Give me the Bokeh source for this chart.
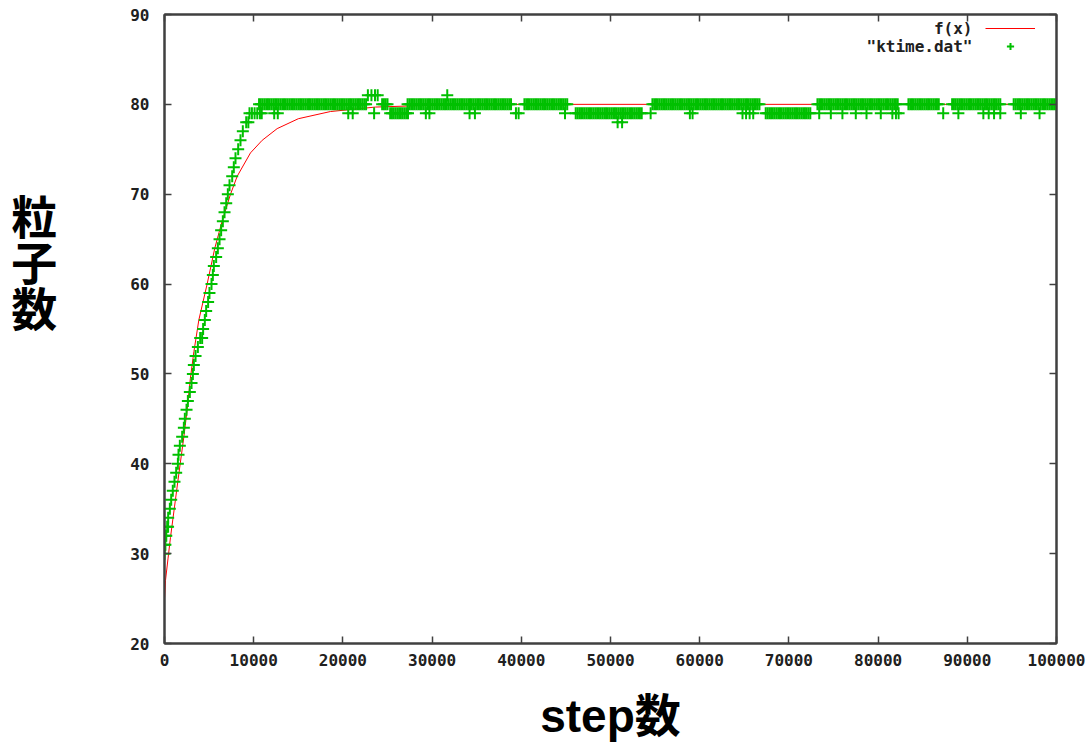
import numpy as np
from bokeh.plotting import figure
from bokeh.models import (Range1d, FixedTicker, LinearAxis, Legend, Label,
                          LegendItem, BasicTickFormatter, ColumnDataSource)
from bokeh.embed import file_html
from bokeh.resources import INLINE

# ---------------- data ----------------
x_ticks = [0, 10000, 20000, 30000, 40000, 50000, 60000, 70000, 80000, 90000, 100000]
y_ticks = [20, 30, 40, 50, 60, 70, 80, 90]

# fitted curve f(x)
fit_x = [0, 110, 400, 670, 1120, 1610, 2170, 2540, 2900, 3300, 3850, 4780, 5640,
         6460, 7400, 8150, 9640, 10950, 12630, 15000, 18600, 23650, 30000, 40000,
         60000, 80000, 100000]
fit_y = [25.0, 27.0, 29.5, 31.8, 35.2, 38.9, 43.0, 46.0, 49.5, 52.5, 56.0, 60.0, 64.0,
         67.0, 70.0, 72.0, 74.6, 76.0, 77.3, 78.4, 79.2, 79.7, 79.9, 80.0,
         80.0, 80.0, 80.0]

# "ktime.dat": rising part, point by point
rise_x = [0, 0, 100, 110, 200, 300, 400, 410, 600, 750, 930, 1120, 1310, 1500, 1570,
          1720, 1980, 2170, 2280, 2470, 2620, 2840, 3030, 3180, 3290, 3480, 3740,
          4000, 4220, 4330, 4520, 4670, 4890, 5040, 5270, 5420, 5530, 5790, 5980,
          6170, 6350, 6540, 6730, 6920, 7100, 7290, 7590, 7770, 7960, 8260, 8520,
          8780, 9160, 9400, 9530, 9800, 10100, 10400, 10700, 10900]
rise_y = [30, 31, 31, 32, 32, 33, 33, 34, 35, 36, 37, 38, 39, 40, 41,
          42, 43, 44, 45, 46, 47, 48, 49, 50, 51, 52, 53,
          54, 54, 55, 56, 57, 58, 59, 60, 61, 62, 63, 64,
          65, 66, 67, 68, 69, 70, 71, 72, 73, 74, 75, 76,
          77, 78, 78, 79, 79, 79, 79, 79, 79]

# plateau: runs of equal values (start step, end step, value), sampled every SAMPLE_STEP
SAMPLE_STEP = 200
run_start = [10600, 24400, 27250, 40350, 54700, 73200, 83400, 88300, 95200, 25300, 46100, 67400]
run_end   = [22750, 25000, 39000, 45200, 66800, 82200, 86800, 93800, 100000, 27400, 53600, 72400]
run_value = [80, 80, 80, 80, 80, 80, 80, 80, 80, 79, 79, 79]

# plateau: single points off the main level
iso_x = [12300, 12700, 20600, 21100, 22800, 23200, 23500, 23600, 23900, 29300, 29700,
         31700, 34200, 34800, 39400, 39700, 44900, 50800, 51300, 54500, 58900, 59200,
         64800, 65200, 65600, 66000, 73400, 74700, 76000, 77500, 78700, 80300, 81600,
         82000, 82300, 87300, 89000, 91800, 92400, 93000, 93700, 96000, 98100]
iso_y = [79, 79, 79, 79, 81, 81, 79, 81, 81, 79, 79,
         81, 79, 79, 79, 79, 79, 78, 78, 79, 79, 79,
         79, 79, 79, 79, 79, 79, 79, 79, 79, 79, 79,
         79, 79, 79, 79, 79, 79, 79, 79, 79, 79]

# ---------------- build point table ----------------
pts_x = list(rise_x)
pts_y = list(rise_y)
for s, e, v in zip(run_start, run_end, run_value):
    xs = np.arange(s, e + 1, SAMPLE_STEP)
    pts_x.extend(xs.tolist())
    pts_y.extend([v] * len(xs))
pts_x.extend(iso_x)
pts_y.extend(iso_y)

fit_src = ColumnDataSource(dict(x=fit_x, y=fit_y))
dat_src = ColumnDataSource(dict(x=pts_x, y=pts_y))

AX = "#404040"
MONO = "DejaVu Sans Mono"
RED = "#ff0000"
GREEN = "#00c000"

p = figure(width=1087, height=744, x_range=Range1d(0, 100000), y_range=Range1d(20, 90),
           output_backend="svg", toolbar_location=None,
           min_border_left=164, min_border_right=31, min_border_top=14, min_border_bottom=101)
p.grid.visible = False
p.outline_line_color = AX
p.outline_line_width = 2
p.background_fill_color = "white"
p.border_fill_color = "white"

r_fit = p.line("x", "y", source=fit_src, line_color=RED, line_width=1)
r_dat = p.scatter("x", "y", source=dat_src, marker="cross", size=12,
                  line_color=GREEN, line_width=2)

def style_axis(ax, labels=True):
    ax.axis_line_color = AX
    ax.axis_line_width = 2
    ax.major_tick_in = 7
    ax.major_tick_out = 0
    ax.major_tick_line_color = AX
    ax.major_tick_line_width = 1.5
    ax.minor_tick_in = 0
    ax.minor_tick_out = 0
    ax.minor_tick_line_color = None
    if labels:
        ax.major_label_text_font = MONO
        ax.major_label_text_font_style = "bold"
        ax.major_label_text_font_size = "16px"
        ax.major_label_text_color = "#202020"
    else:
        ax.major_label_text_font_size = "1px"
        ax.major_label_text_color = None
        ax.major_label_standoff = 0

xa = p.xaxis[0]
xa.ticker = FixedTicker(ticks=x_ticks)
xa.formatter = BasicTickFormatter(use_scientific=False)
style_axis(xa)
xa.major_label_standoff = 10
xa.axis_label = "step数"
xa.axis_label_text_font = "Liberation Sans, Noto Sans CJK JP"
xa.axis_label_text_font_style = "bold"
xa.axis_label_text_font_size = "46px"
xa.axis_label_text_color = "black"
xa.axis_label_standoff = 21

ya = p.yaxis[0]
ya.ticker = FixedTicker(ticks=y_ticks)
style_axis(ya)
ya.major_label_standoff = 15
# stacked vertical label; trailing empty lines lift the block to where the original sits
ya.axis_label = "粒\n子\n数\n\n\n"
ya.axis_label_orientation = "horizontal"
ya.axis_label_text_font = "Noto Sans CJK JP"
ya.axis_label_text_font_style = "bold"
ya.axis_label_text_font_size = "46px"
ya.axis_label_text_line_height = 0.7
ya.axis_label_text_color = "black"
ya.axis_label_standoff = 70

top = LinearAxis(ticker=FixedTicker(ticks=x_ticks))
style_axis(top, labels=False)
p.add_layout(top, "above")
right = LinearAxis(ticker=FixedTicker(ticks=y_ticks))
style_axis(right, labels=False)
p.add_layout(right, "right")

# legend (gnuplot style: text on the left, sample on the right)
legend = Legend(items=[LegendItem(label=" ", renderers=[r_fit]),
                       LegendItem(label=" ", renderers=[r_dat])],
                location=(821, 588), glyph_width=50, glyph_height=18, label_height=18,
                label_width=0, label_standoff=0, spacing=0, padding=0, margin=0,
                border_line_color=None, background_fill_alpha=0,
                label_text_font_size="13px")
p.add_layout(legend)
for i, t in enumerate(['f(x)', '"ktime.dat"']):
    p.add_layout(Label(x=808, y=615 - i * 18, x_units="screen", y_units="screen",
                       text=t, text_font=MONO, text_font_style="bold",
                       text_font_size="16px", text_align="right", text_baseline="middle",
                       text_color="#202020"))

open("out.html", "w").write(file_html(p, INLINE))
